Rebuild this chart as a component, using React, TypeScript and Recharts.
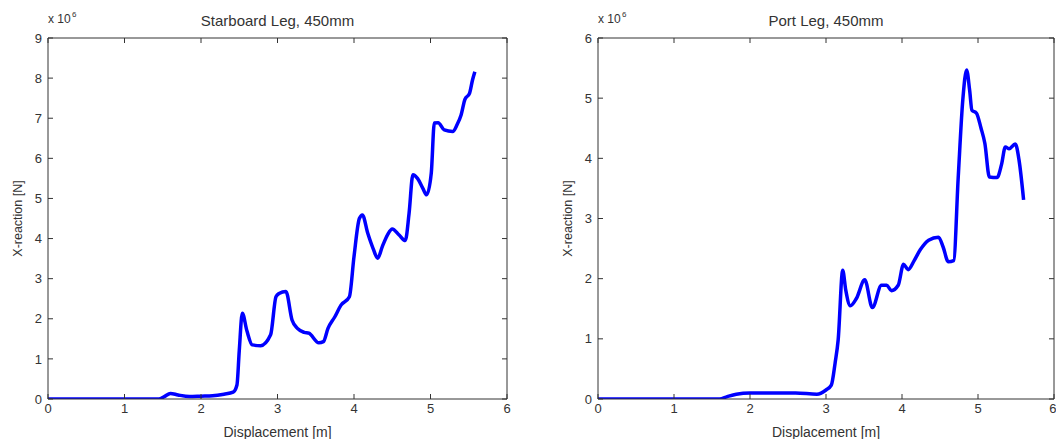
import React from "react";
import { LineChart, Line, XAxis, YAxis } from "recharts";

// Starboard leg, 450mm (x in m, reaction in 1e6 N)
const STBD_DISP = [
  0, 1.45, 1.52, 1.6, 1.7, 1.85, 2.0, 2.15, 2.3, 2.42, 2.47, 2.5, 2.54, 2.6, 2.67, 2.78,
  2.91, 2.98, 3.02, 3.11, 3.19, 3.26, 3.35, 3.41, 3.54, 3.6, 3.66, 3.75, 3.83, 3.94, 4.0,
  4.07, 4.11, 4.18, 4.25, 4.31, 4.37, 4.44, 4.5, 4.59, 4.67, 4.72, 4.77, 4.83, 4.9, 4.95,
  5.01, 5.05, 5.1, 5.18, 5.29, 5.35, 5.4, 5.45, 5.51, 5.55, 5.58,
];
const STBD_REACTION = [
  0, 0, 0.06, 0.14, 0.1, 0.06, 0.07, 0.08, 0.12, 0.17, 0.35, 1.2, 2.14, 1.7, 1.35, 1.33,
  1.6, 2.55, 2.63, 2.68, 1.97, 1.76, 1.66, 1.64, 1.4, 1.43, 1.76, 2.05, 2.34, 2.55, 3.55,
  4.5, 4.59, 4.13, 3.75, 3.51, 3.8, 4.1, 4.24, 4.09, 3.95, 4.63, 5.59, 5.5, 5.25, 5.09,
  5.63, 6.88, 6.89, 6.71, 6.67, 6.85, 7.08, 7.47, 7.62, 7.96, 8.16,
];

// Port leg, 450mm
const PORT_DISP = [
  0, 1.6, 1.7, 1.82, 2.0, 2.2, 2.44, 2.6, 2.88, 3.0, 3.07, 3.12, 3.16, 3.22, 3.26, 3.32,
  3.4, 3.51, 3.61, 3.73, 3.8, 3.86, 3.95, 4.02, 4.08, 4.16, 4.24, 4.35, 4.48, 4.54, 4.61,
  4.68, 4.74, 4.8, 4.85, 4.89, 4.92, 4.98, 5.04, 5.09, 5.15, 5.25, 5.31, 5.36, 5.41, 5.49,
  5.54, 5.6,
];
const PORT_REACTION = [
  0, 0, 0.04, 0.08, 0.1, 0.1, 0.1, 0.1, 0.08, 0.15, 0.23, 0.6, 0.98, 2.14, 1.81, 1.55,
  1.67, 1.98, 1.52, 1.89, 1.89, 1.8, 1.89, 2.24, 2.15, 2.3, 2.48, 2.64, 2.69, 2.53, 2.28,
  2.3, 3.69, 4.97, 5.47, 5.13, 4.8, 4.75, 4.5, 4.25, 3.69, 3.68, 3.9, 4.19, 4.16, 4.24,
  3.97, 3.31,
];

const X_TICKS = [0, 1, 2, 3, 4, 5, 6];
const STBD_Y_TICKS = [0, 1, 2, 3, 4, 5, 6, 7, 8, 9];
const PORT_Y_TICKS = [0, 1, 2, 3, 4, 5, 6];

const FONT = "Arial, 'Liberation Sans', sans-serif";
const AXIS = "#333";
const TEXT = "#333";

type PanelProps = {
  title: string;
  disp: number[];
  reaction: number[];
  yTicks: number[];
  marginLeft: number;
  marginRight: number;
};

function Panel({ title, disp, reaction, yTicks, marginLeft, marginRight }: PanelProps) {
  const data = disp.map((x, i) => ({ x, y: reaction[i] }));
  const yMax = yTicks[yTicks.length - 1];
  const tickStyle = { fontSize: 13, fill: TEXT, fontFamily: FONT };
  const blank = () => "";

  return (
    <LineChart
      width={528}
      height={439}
      data={data}
      margin={{ top: 37, right: marginRight, bottom: 0, left: marginLeft }}
    >
      <XAxis
        xAxisId="bottom"
        dataKey="x"
        type="number"
        domain={[0, 6]}
        ticks={X_TICKS}
        allowDataOverflow
        height={40}
        tickSize={-5}
        tickMargin={10}
        stroke={AXIS}
        tickLine={{ stroke: AXIS }}
        tick={tickStyle}
        label={{
          value: "Displacement [m]",
          position: "insideBottom",
          offset: 2,
          style: { fontSize: 14, fill: TEXT, fontFamily: FONT },
        }}
      />
      <XAxis
        xAxisId="top"
        orientation="top"
        dataKey="x"
        type="number"
        domain={[0, 6]}
        ticks={X_TICKS}
        allowDataOverflow
        height={1}
        tickSize={-5}
        tickFormatter={blank}
        tickLine={{ stroke: AXIS }}
        stroke={AXIS}
        label={{
          content: (p: any) => {
            const vb = p.viewBox || {};
            const cx = vb.x + vb.width / 2;
            return (
              <g fontFamily={FONT} fill={TEXT}>
                <text x={cx} y={vb.y - 11} textAnchor="middle" fontSize={15}>
                  {title}
                </text>
                <text x={vb.x} y={vb.y - 14} fontSize={12}>
                  x 10
                </text>
                <text x={vb.x + 24} y={vb.y - 20} fontSize={8}>
                  6
                </text>
              </g>
            );
          },
        }}
      />
      <YAxis
        yAxisId="left"
        type="number"
        domain={[0, yMax]}
        ticks={yTicks}
        allowDataOverflow
        width={40}
        tickSize={-5}
        tickMargin={11}
        stroke={AXIS}
        tickLine={{ stroke: AXIS }}
        tick={tickStyle}
        label={{
          content: (p: any) => {
            const vb = p.viewBox || {};
            const lx = vb.x + 14;
            const ly = vb.y + vb.height / 2;
            return (
              <text
                x={lx}
                y={ly}
                transform={`rotate(-90 ${lx} ${ly})`}
                textAnchor="middle"
                fontSize={12.5}
                fontFamily={FONT}
                fill={TEXT}
              >
                X-reaction [N]
              </text>
            );
          },
        }}
      />
      <YAxis
        yAxisId="right"
        orientation="right"
        type="number"
        domain={[0, yMax]}
        ticks={yTicks}
        allowDataOverflow
        width={1}
        tickSize={-5}
        tickFormatter={blank}
        tickLine={{ stroke: AXIS }}
        stroke={AXIS}
      />
      <Line
        xAxisId="bottom"
        yAxisId="left"
        dataKey="y"
        type="monotone"
        stroke="#0000ff"
        strokeWidth={3.5}
        dot={false}
        isAnimationActive={false}
      />
    </LineChart>
  );
}

export default function App() {
  return (
    <div
      style={{
        position: "absolute",
        left: 0,
        top: 0,
        width: 1056,
        height: 439,
        background: "#fff",
        display: "flex",
        overflow: "hidden",
      }}
    >
      <Panel
        title="Starboard Leg, 450mm"
        disp={STBD_DISP}
        reaction={STBD_REACTION}
        yTicks={STBD_Y_TICKS}
        marginLeft={8}
        marginRight={20}
      />
      <Panel
        title="Port Leg, 450mm"
        disp={PORT_DISP}
        reaction={PORT_REACTION}
        yTicks={PORT_Y_TICKS}
        marginLeft={30}
        marginRight={1}
      />
    </div>
  );
}
